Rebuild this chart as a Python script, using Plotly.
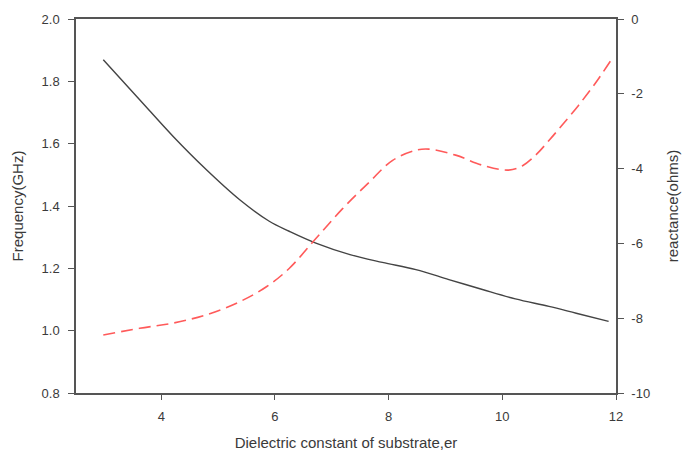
import plotly.graph_objects as go

# Frequency (GHz) vs dielectric constant
er_freq = [2.98, 3.62, 4.21, 4.79, 5.38, 5.9, 6.25, 6.72, 7.32, 7.89, 8.48, 9.06, 9.65, 10.23, 10.82, 11.3, 11.87]
freq = [1.869, 1.741, 1.623, 1.517, 1.420, 1.351, 1.319, 1.281, 1.244, 1.219, 1.196, 1.164, 1.132, 1.102, 1.078, 1.056, 1.030]

# Reactance (ohms) vs dielectric constant
er_x = [2.98, 3.62, 4.21, 4.79, 5.38, 5.85, 6.25, 6.72, 7.19, 7.66, 8.07, 8.48, 8.71, 9.18, 9.65, 10.11, 10.35, 10.6, 10.82, 11.05, 11.34, 11.63, 11.9]
reactance = [-8.45, -8.27, -8.13, -7.91, -7.56, -7.16, -6.67, -5.87, -5.07, -4.36, -3.78, -3.51, -3.48, -3.64, -3.91, -4.04, -3.93, -3.62, -3.25, -2.84, -2.31, -1.73, -1.13]

x_ticks = [4, 6, 8, 10, 12]
y1_ticks = [0.8, 1.0, 1.2, 1.4, 1.6, 1.8, 2.0]
y2_ticks = [-10, -8, -6, -4, -2, 0]
y2_labels = ["-10", "-8", "-6", "-4", "-2", "0"]

AX = "#555555"
TXT = "#3a3a3a"
FONT = "Liberation Sans, Arial, sans-serif"

fig = go.Figure()
fig.add_trace(go.Scatter(x=er_freq, y=freq, mode="lines", line=dict(color="#444444", width=1.4, shape="spline"),
                         showlegend=False, yaxis="y"))
fig.add_trace(go.Scatter(x=er_x, y=reactance, mode="lines",
                         line=dict(color="#ff5a5a", width=1.6, shape="spline", dash="12px,6px"),
                         showlegend=False, yaxis="y2"))

fig.update_layout(
    width=697, height=457,
    margin=dict(l=76, r=81, t=19, b=64),
    paper_bgcolor="white", plot_bgcolor="white",
    font=dict(family=FONT, size=13, color=TXT),
    xaxis=dict(range=[2.5, 12], tickvals=x_ticks, showgrid=False, zeroline=False, automargin=False,
               showline=True, linecolor=AX, linewidth=1.5, mirror=True,
               ticks="outside", ticklen=5, tickcolor=AX, ticklabelstandoff=6,
               tickfont=dict(size=13, color=TXT),
               title=dict(text="Dielectric constant of substrate,er", font=dict(size=15, color=TXT), standoff=14)),
    yaxis=dict(range=[0.8, 2.0], tickvals=y1_ticks, tickformat=".1f", showgrid=False, zeroline=False, automargin=False,
               showline=True, linecolor=AX, linewidth=1.5,
               ticks="outside", ticklen=6, tickcolor=AX, ticklabelstandoff=6,
               tickfont=dict(size=13, color=TXT),
               title=dict(text="Frequency(GHz)", font=dict(size=15, color=TXT), standoff=14)),
    yaxis2=dict(range=[-10, 0], tickvals=y2_ticks, ticktext=y2_labels, overlaying="y", side="right",
                showgrid=False, zeroline=False, automargin=False,
                showline=True, linecolor=AX, linewidth=1.5,
                ticks="outside", ticklen=6, tickcolor=AX, ticklabelstandoff=5,
                tickfont=dict(size=13, color=TXT),
                title=dict(text="reactance(ohms)", font=dict(size=15, color=TXT), standoff=18)),
)

fig.write_html("out.html")
